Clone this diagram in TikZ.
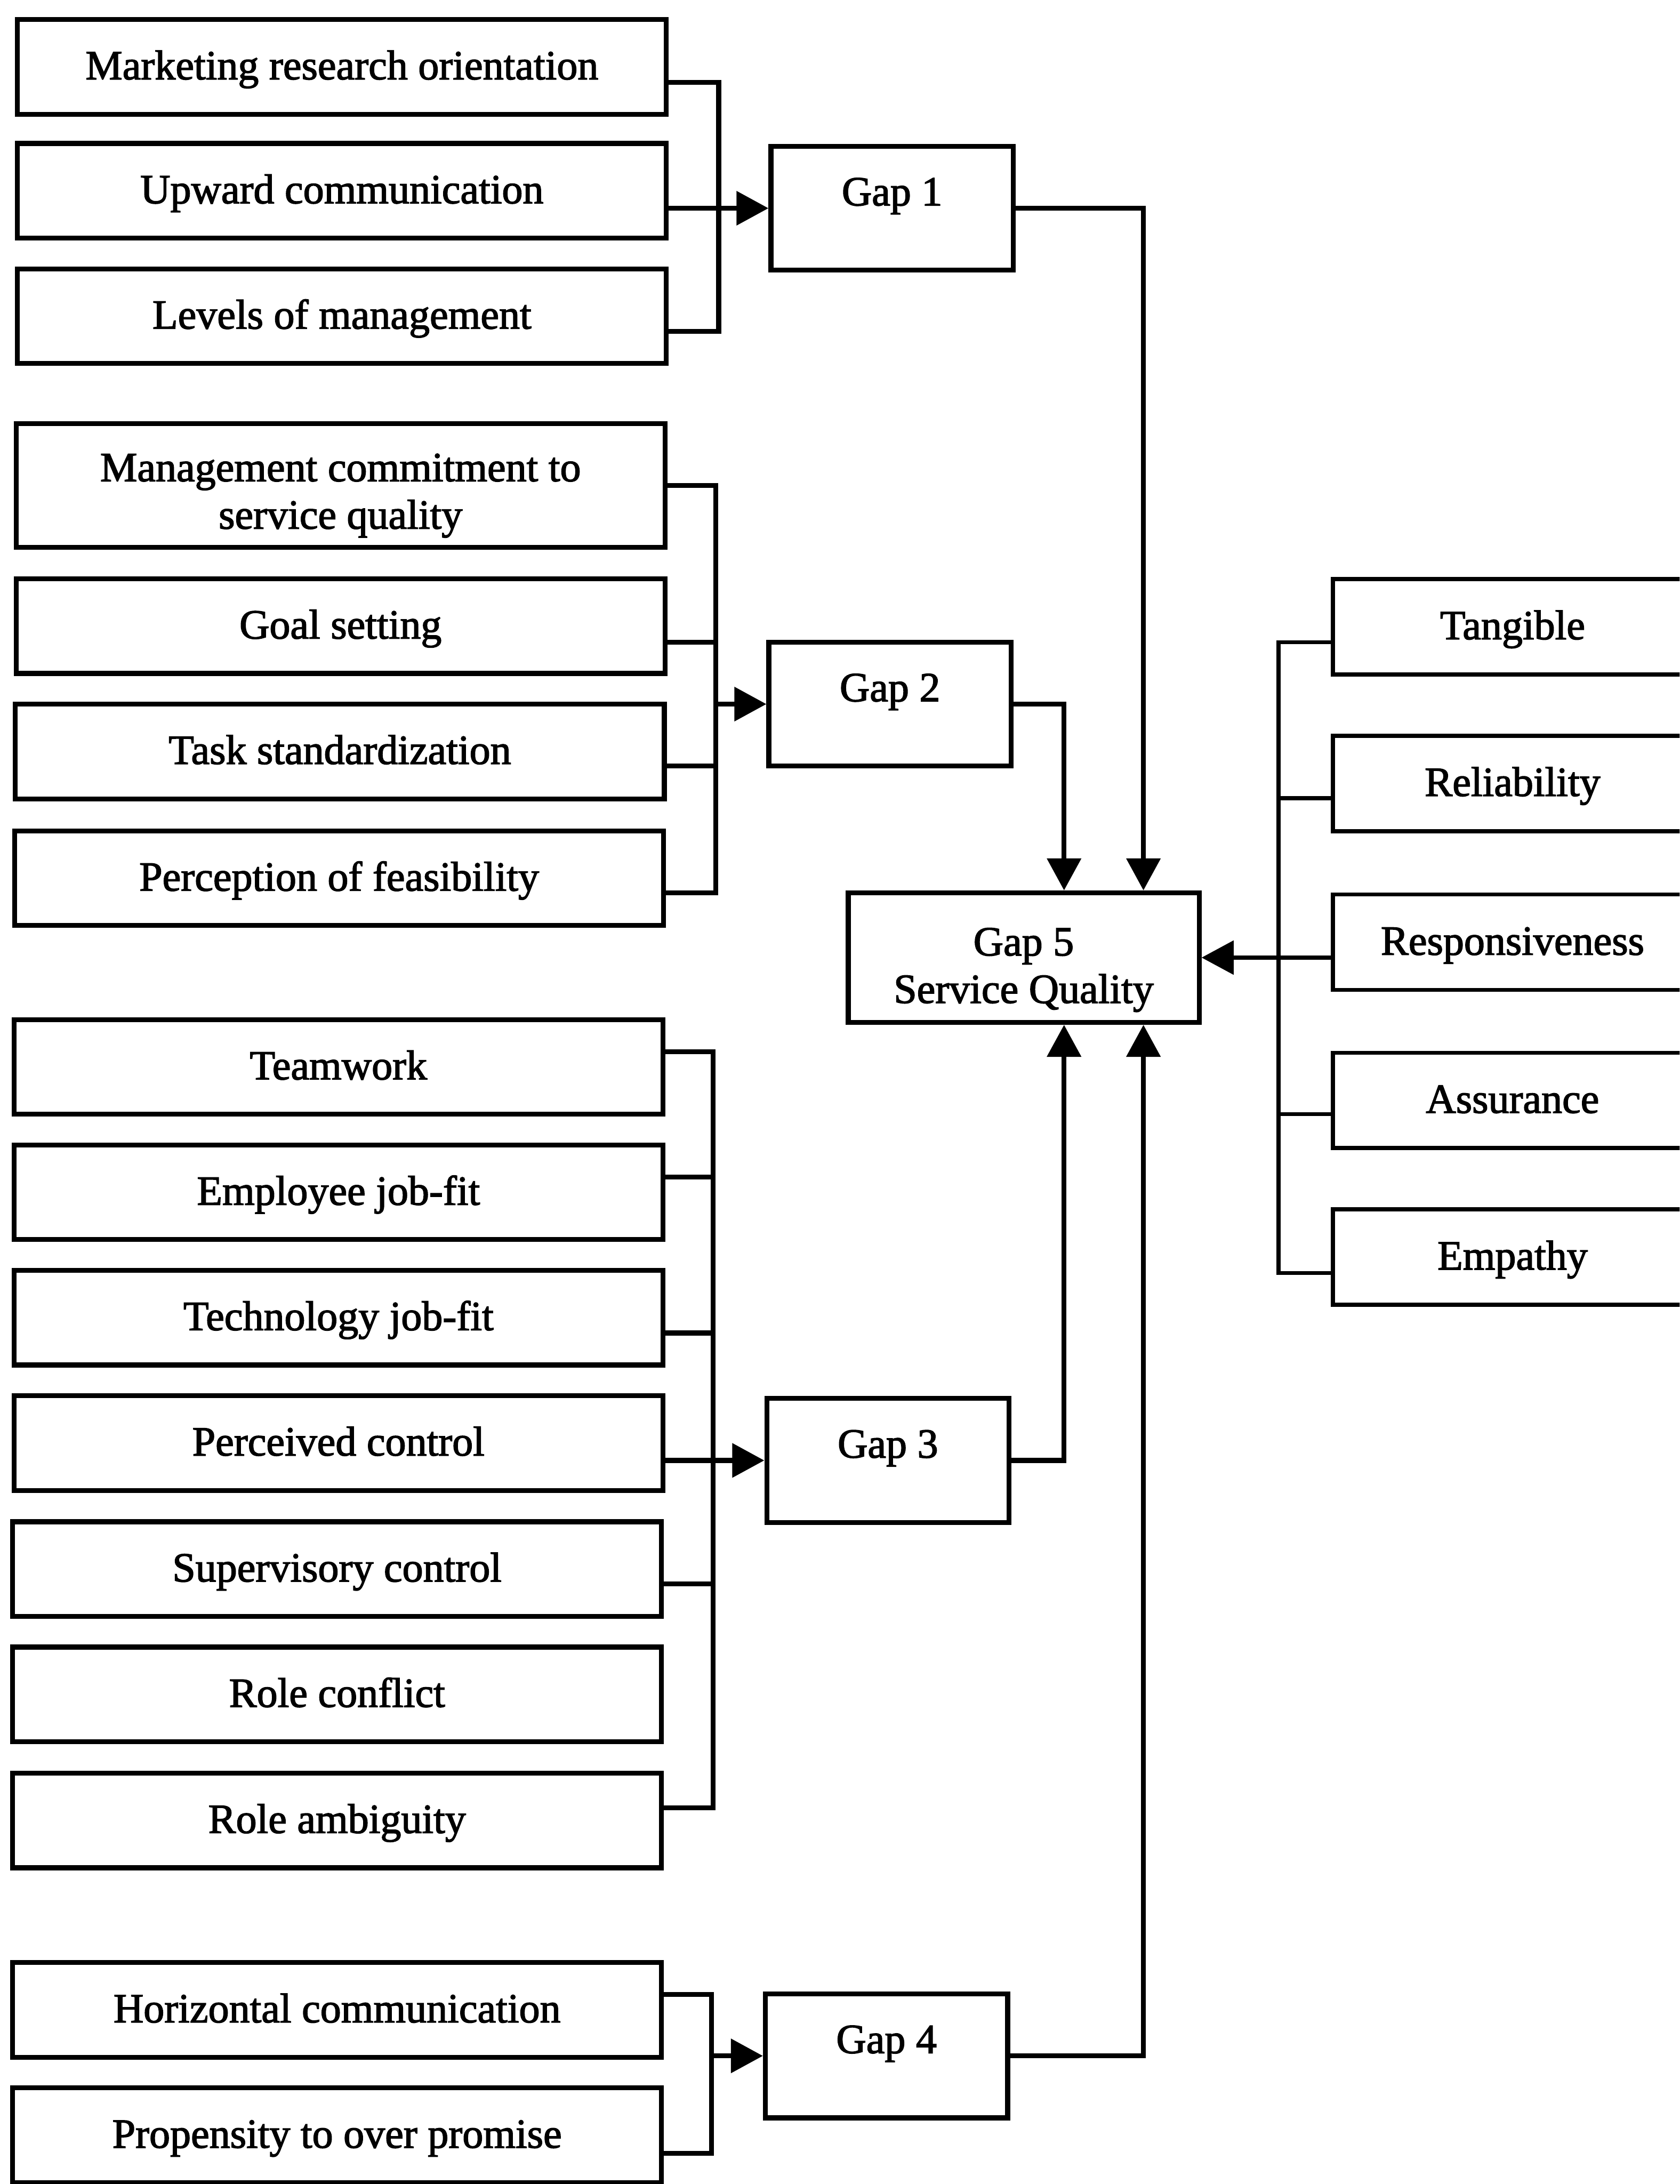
\documentclass[tikz,border=0pt]{standalone}
\usepackage{fontspec}
\newfontfamily\labelfont{Liberation Serif}[FakeBold=2]
\usetikzlibrary{arrows.meta}

\begin{document}
\begin{tikzpicture}[x=0.02cm, y=-0.02cm,
  lbl/.style={font=\labelfont\fontsize{17pt}{19.4pt}\selectfont},
  frame/.style={lbl, draw, line width=2pt, inner sep=0pt, align=center},
  lbox/.style={frame, minimum width=9.32cm, minimum height=1.36cm, text height=13.9pt, text depth=3.7pt},
  tallbox/.style={frame, minimum width=9.32cm, minimum height=1.78cm},
  gapbox/.style={frame, minimum width=3.48cm, minimum height=1.78cm, text height=0.54cm, text depth=0.62cm},
  qualbox/.style={frame, minimum width=5.04cm, minimum height=1.86cm},
  dimbox/.style={frame, line width=1.6pt, minimum width=5.16cm, minimum height=1.37cm, text height=13.9pt, text depth=3.7pt},
  link/.style={line width=2pt},
  thinlink/.style={line width=1.6pt},
  arr/.style={link, -{Triangle[length=0.46cm, width=0.48cm]}},
  thinarr/.style={thinlink, -{Triangle[length=0.46cm, width=0.48cm]}},
]
\useasboundingbox (0,0) rectangle (1206,1568);
\clip (0,0) rectangle (1206,1568);

% ---- Gap 1 antecedents
\node[lbox] (mro) at (245.5,48)  {Marketing research orientation};
\node[lbox] (uc)  at (245.5,137) {Upward communication};
\node[lbox] (lom) at (245.5,227) {Levels of management};

% ---- Gap 2 antecedents
\node[tallbox] (mc) at (244.5,348.5) {\rule{0pt}{0.69cm}Management commitment to\\service quality};
\node[lbox] (gs)  at (244.5,449.5) {Goal setting};
\node[lbox] (ts)  at (244,539.5)   {Task standardization};
\node[lbox] (pof) at (243.5,630.5) {Perception of feasibility};

% ---- Gap 3 antecedents
\node[lbox] (tw)  at (243,766)    {Teamwork};
\node[lbox] (ejf) at (243,856)    {Employee job-fit};
\node[lbox] (tjf) at (243,946)    {Technology job-fit};
\node[lbox] (pc)  at (243,1036)   {Perceived control};
\node[lbox] (sc)  at (242,1126.5) {Supervisory control};
\node[lbox] (rc)  at (242,1216.5) {Role conflict};
\node[lbox] (ra)  at (242,1307)   {Role ambiguity};

% ---- Gap 4 antecedents
\node[lbox] (hc)   at (242,1443) {Horizontal communication};
\node[lbox] (ptop) at (242,1533) {Propensity to over promise};

% ---- Gaps
\node[gapbox] (g1) at (640.5,149.5) {Gap 1};
\node[gapbox] (g2) at (639,505.5)   {Gap 2};
\node[gapbox] (g3) at (637.5,1048.5){Gap 3};
\node[gapbox] (g4) at (636.5,1476)  {Gap 4};
\node[qualbox] (g5) at (735,687.5)  {\rule{0pt}{0.75cm}Gap 5\\Service Quality};

% ---- Service quality dimensions
\node[dimbox] (tan)  at (1086,450)   {Tangible};
\node[dimbox] (rel)  at (1086,562.5) {Reliability};
\node[dimbox] (resp) at (1086,676.5) {Responsiveness};
\node[dimbox] (ass)  at (1086,790)   {Assurance};
\node[dimbox] (emp)  at (1086,902.5) {Empathy};

% ---- junctions on the collecting bars
\coordinate (j1) at (516,149.5);
\coordinate (j2) at (514,505.5);
\coordinate (j3) at (512,1048.5);
\coordinate (j4) at (511,1476);
\coordinate (j5) at (918,687.5);

% group 1
\draw[link] ([yshift=-0.22cm]mro.east) -| (j1);
\draw[link] ([yshift=-0.22cm]lom.east) -| (j1);
\draw[arr] (uc.east |- g1.west) -- (g1.west);

% group 2
\draw[link] (mc.east) -| (j2);
\draw[link] ([yshift=-0.23cm]gs.east) -| (j2);
\draw[link] ([yshift=-0.21cm]ts.east) -| (j2);
\draw[link] ([yshift=-0.21cm]pof.east) -| (j2);
\draw[arr] (j2) -- (g2.west);

% group 3
\draw[link] ([yshift=0.22cm]tw.east) -| (j3);
\draw[link] ([yshift=0.22cm]ejf.east) -| (j3);
\draw[link] ([yshift=-0.22cm]tjf.east) -| (j3);
\draw[link] ([yshift=-0.21cm]sc.east) -| (j3);
\draw[link] ([yshift=0.18cm]ra.east) -| (j3);
\draw[arr] (pc.east |- g3.west) -- (g3.west);

% group 4
\draw[link] ([yshift=0.22cm]hc.east) -| (j4);
\draw[link] ([yshift=-0.26cm]ptop.east) -| (j4);
\draw[arr] (j4) -- (g4.west);

% gaps into service quality
\draw[arr] (g1.east) -| ([xshift=1.72cm]g5.north);
\draw[arr] (g2.east) -| ([xshift=0.58cm]g5.north);
\draw[arr] (g3.east) -| ([xshift=0.58cm]g5.south);
\draw[arr] (g4.east) -| ([xshift=1.72cm]g5.south);

% dimensions into service quality
\draw[thinlink] ([yshift=-0.22cm]tan.west) -| (j5);
\draw[thinlink] ([yshift=-0.21cm]rel.west) -| (j5);
\draw[thinlink] ([yshift=-0.20cm]ass.west) -| (j5);
\draw[thinlink] ([yshift=-0.23cm]emp.west) -| (j5);
\draw[thinarr] (resp.west |- g5.east) -- (g5.east);
\end{tikzpicture}
\end{document}
